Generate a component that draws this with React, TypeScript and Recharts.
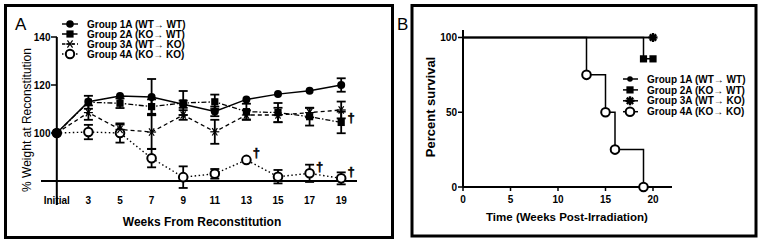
import React from "react";
import { LineChart, Line, XAxis, YAxis, ErrorBar, ReferenceLine, LabelList } from "recharts";

const FONT = '"Liberation Sans", Arial, Helvetica, sans-serif';

// ---- Panel A: % weight at reconstitution ----
const weeks = [1, 3, 5, 7, 9, 11, 13, 15, 17, 19];
const weekLabels = ["Initial", "3", "5", "7", "9", "11", "13", "15", "17", "19"];
const weightTicks = [100, 120, 140];

const group1A = [100, 113, 115.4, 115, 112, 109, 114, 116.2, 117.6, 120];
const group1AErr = [null, null, null, 7.5, 1.5, 2, null, null, null, 2.8];
const group2A = [100, 112.8, 112.4, 111, 112.5, 113, 108.9, 108.5, 106.8, 104.4];
const group2AErr = [null, 2.7, 2, 3, 5, 3, 3.3, 4, 3.7, 4.5];
const group3A = [100, 108.5, 101.5, 100.4, 107.5, 100.5, 107.5, 107.5, 108.5, 109.6];
const group3AErr = [null, 3, 2, 7, 2, 5, 2, 3, 2, 3.5];
const group4A = [100, 100.4, 100, 89.5, 81.6, 83, 88.8, 81.8, 83.2, 81.1];
const group4AErr = [null, 3, 4, 3.8, 4.5, 2, null, 2.8, 3.6, 2.5];
const daggers3A = [0, 0, 0, 0, 0, 0, 0, 0, 0, 1];
const daggers4A = [0, 0, 0, 0, 0, 0, 1, 0, 1, 1];

const groupNames = [
  "Group 1A (WT\u2192 WT)",
  "Group 2A (KO\u2192 WT)",
  "Group 3A (WT\u2192 KO)",
  "Group 4A (KO\u2192 KO)",
];

// ---- Panel B: survival ----
const survTicksX = [0, 5, 10, 15, 20];
const survTicksY = [0, 50, 100];
const surv1AT = [0, 20];
const surv1AV = [100, 100];
const surv1AMark = [0, 1];
const surv2AT = [0, 19, 20];
const surv2AV = [100, 85.7, 85.7];
const surv2AMark = [0, 1, 1];
const surv3AT = [0, 20];
const surv3AV = [100, 100];
const surv3AMark = [0, 1];
const surv4AT = [0, 13, 15, 16, 19];
const surv4AV = [100, 75, 50, 25, 0];
const surv4AMark = [0, 1, 1, 1, 1];

const weightRows = weeks.map((w, i) => ({
  week: w,
  g1: group1A[i], e1: group1AErr[i],
  g2: group2A[i], e2: group2AErr[i],
  g3: group3A[i], e3: group3AErr[i],
  g4: group4A[i], e4: group4AErr[i],
  d3: daggers3A[i], d4: daggers4A[i],
}));

const toRows = (t: number[], v: number[], m: number[]) =>
  t.map((x, i) => ({ t: x, v: v[i], mark: m[i] }));

type Kind = "circle" | "square" | "asterisk" | "star" | "open";

function Marker({ kind, cx, cy, size }: { kind: Kind; cx: number; cy: number; size: number }) {
  if (kind === "circle") return <circle cx={cx} cy={cy} r={size} fill="#000" />;
  if (kind === "square")
    return <rect x={cx - size} y={cy - size} width={size * 2} height={size * 2} fill="#000" />;
  if (kind === "open")
    return <circle cx={cx} cy={cy} r={size} fill="#fff" stroke="#000" strokeWidth={2} />;
  const angles = kind === "asterisk" ? [0, 55, 125] : [0, 45, 90, 135];
  const sw = kind === "asterisk" ? 1.2 : 2.4;
  return (
    <g>
      {angles.map((a) => {
        const rad = (a * Math.PI) / 180;
        const dx = Math.cos(rad) * size;
        const dy = Math.sin(rad) * size;
        return (
          <line key={a} x1={cx - dx} y1={cy - dy} x2={cx + dx} y2={cy + dy} stroke="#000" strokeWidth={sw} />
        );
      })}
    </g>
  );
}

const makeDot = (kind: Kind, size: number, onlyMarked = false) => (props: any) => {
  const { cx, cy, index, payload } = props;
  const k = `d-${kind}-${index}`;
  if (cx == null || cy == null || (onlyMarked && !payload?.mark)) return <g key={k} />;
  return (
    <g key={k}>
      <Marker kind={kind} cx={cx} cy={cy} size={size} />
    </g>
  );
};

// dagger next to a point (group lost members after this time point)
const daggerLabel = (dy: number) => (props: any) => {
  const { x, y, value, index } = props;
  if (!value) return <g key={`dg-${index}`} />;
  return (
    <text key={`dg-${index}`} x={x + 10} y={y + dy} fontSize={13} fontWeight="bold"
      fontFamily={FONT} fill="#000" stroke="#000" strokeWidth={0.5}
      textAnchor="middle" dominantBaseline="central">
      {"\u2020"}
    </text>
  );
};

const Y_AXIS_A_X = 57;

const WeightYTick = (props: any) => {
  const { y, payload } = props;
  return (
    <g>
      <line x1={Y_AXIS_A_X - 6} y1={y} x2={Y_AXIS_A_X} y2={y} stroke="#000" strokeWidth={1.5} />
      <text x={Y_AXIS_A_X - 6.5} y={y} dy={3.6} textAnchor="end" fontSize={10}
        fontWeight="bold" fontFamily={FONT} fill="#000">
        {payload.value}
      </text>
    </g>
  );
};

const WeekTick = (props: any) => {
  const { x, y, payload } = props;
  const idx = weeks.indexOf(payload.value);
  return (
    <text x={x} y={y - 1} textAnchor="middle" fontSize={10} fontWeight="bold"
      fontFamily={FONT} fill="#000">
      {idx >= 0 ? weekLabels[idx] : payload.value}
    </text>
  );
};

const legendA: { kind: Kind; size: number; dash?: string }[] = [
  { kind: "circle", size: 3.8 },
  { kind: "square", size: 3.6, dash: "5 2 1.5 2" },
  { kind: "asterisk", size: 4.5, dash: "3 2" },
  { kind: "open", size: 4.2, dash: "1.5 2" },
];
const legendB: { kind: Kind; size: number }[] = [
  { kind: "circle", size: 2.8 },
  { kind: "square", size: 3.6 },
  { kind: "star", size: 4.5 },
  { kind: "open", size: 4.3 },
];

const tickStyle = { fontSize: 10, fontWeight: "bold", fontFamily: FONT, fill: "#000" };

export default function App() {
  return (
    <div style={{ position: "absolute", left: 0, top: 0, width: 762, height: 245, background: "#fff", fontFamily: FONT }}>
      {/* Panel A */}
      <div style={{ position: "absolute", left: 0, top: 0 }}>
        <LineChart width={392} height={245} data={weightRows}
          margin={{ top: 37, right: 35, bottom: 20, left: 21 }}>
          <XAxis type="number" dataKey="week" domain={[0, 20]} ticks={weeks} interval={0}
            axisLine={false} tickLine={false} tickSize={0} tickMargin={0} height={20}
            tick={<WeekTick />} />
          <YAxis type="number" domain={[70, 140]} ticks={weightTicks} interval={0}
            axisLine={false} tickLine={false} width={20} tick={<WeightYTick />} />
          <ReferenceLine y={80} stroke="#000" strokeWidth={2} />
          <ReferenceLine x={1} stroke="#000" strokeWidth={2} />
          <Line dataKey="g4" stroke="#000" strokeWidth={1.4} strokeDasharray="1.5 2.5"
            dot={makeDot("open", 4.3)} activeDot={false} isAnimationActive={false}>
            <ErrorBar dataKey="e4" width={4.5} strokeWidth={1.8} stroke="#000" direction="y" />
            <LabelList dataKey="d4" content={daggerLabel(-7)} />
          </Line>
          <Line dataKey="g3" stroke="#000" strokeWidth={1.3} strokeDasharray="4 3"
            dot={makeDot("asterisk", 4.5)} activeDot={false} isAnimationActive={false}>
            <ErrorBar dataKey="e3" width={4.5} strokeWidth={1.8} stroke="#000" direction="y" />
            <LabelList dataKey="d3" content={daggerLabel(8)} />
          </Line>
          <Line dataKey="g2" stroke="#000" strokeWidth={1.3} strokeDasharray="5 2 1.5 2"
            dot={makeDot("square", 3.6)} activeDot={false} isAnimationActive={false}>
            <ErrorBar dataKey="e2" width={4.5} strokeWidth={1.8} stroke="#000" direction="y" />
          </Line>
          <Line dataKey="g1" stroke="#000" strokeWidth={1.5}
            dot={makeDot("circle", 4)} activeDot={false} isAnimationActive={false}>
            <ErrorBar dataKey="e1" width={4.5} strokeWidth={1.8} stroke="#000" direction="y" />
          </Line>
        </LineChart>
      </div>

      {/* Panel B */}
      <div style={{ position: "absolute", left: 400, top: 0 }}>
        <LineChart width={362} height={245} margin={{ top: 30, right: 90, bottom: 38, left: 43 }}>
          <XAxis type="number" dataKey="t" domain={[0, 22]} ticks={survTicksX} interval={0}
            axisLine={{ stroke: "#000", strokeWidth: 2 }} tickLine={{ stroke: "#000", strokeWidth: 1.5 }}
            tickSize={4} tickMargin={5} height={20} tick={tickStyle} allowDuplicatedCategory={false} />
          <YAxis type="number" domain={[0, 105]} ticks={survTicksY} interval={0}
            axisLine={{ stroke: "#000", strokeWidth: 2 }} tickLine={{ stroke: "#000", strokeWidth: 1.5 }}
            tickSize={5} tickMargin={1} width={20} tick={tickStyle} />
          <Line data={toRows(surv1AT, surv1AV, surv1AMark)} dataKey="v" type="stepAfter"
            stroke="#000" strokeWidth={1.5} dot={makeDot("circle", 2.8, true)}
            activeDot={false} isAnimationActive={false} />
          <Line data={toRows(surv2AT, surv2AV, surv2AMark)} dataKey="v" type="stepAfter"
            stroke="#000" strokeWidth={1.5} dot={makeDot("square", 3.6, true)}
            activeDot={false} isAnimationActive={false} />
          <Line data={toRows(surv3AT, surv3AV, surv3AMark)} dataKey="v" type="stepAfter"
            stroke="#000" strokeWidth={1.5} dot={makeDot("star", 4.5, true)}
            activeDot={false} isAnimationActive={false} />
          <Line data={toRows(surv4AT, surv4AV, surv4AMark)} dataKey="v" type="stepAfter"
            stroke="#000" strokeWidth={1.5} dot={makeDot("open", 4.3, true)}
            activeDot={false} isAnimationActive={false} />
        </LineChart>
      </div>

      {/* Frames, titles and legends */}
      <svg width={762} height={245} style={{ position: "absolute", left: 0, top: 0, pointerEvents: "none" }}>
        <rect x={5.5} y={5.5} width={387} height={232} fill="none" stroke="#000" strokeWidth={3} />
        <rect x={412} y={5.5} width={344} height={230.5} fill="none" stroke="#000" strokeWidth={3} />
        <text x={15} y={30} fontSize={17} fontFamily={FONT}>A</text>
        <text x={397} y={30} fontSize={17} fontFamily={FONT}>B</text>

        <text x={202} y={225.5} fontSize={12} fontWeight="bold" fontFamily={FONT} textAnchor="middle">
          Weeks From Reconstitution
        </text>
        <text transform="translate(27,120) rotate(-90)" fontSize={12} fontFamily={FONT}
          textAnchor="middle" dominantBaseline="central">
          % Weight at Reconstitution
        </text>
        <text x={567} y={221} fontSize={11.5} fontWeight="bold" fontFamily={FONT} textAnchor="middle">
          Time (Weeks Post-Irradiation)
        </text>
        <text transform="translate(430,107) rotate(-90)" fontSize={13} fontWeight="bold" fontFamily={FONT}
          textAnchor="middle" dominantBaseline="central">
          Percent survival
        </text>

        {legendA.map((s, i) => {
          const cy = 24 + i * 10;
          return (
            <g key={`la-${i}`}>
              <line x1={62} y1={cy} x2={78} y2={cy} stroke="#000" strokeWidth={1.4} strokeDasharray={s.dash} />
              <Marker kind={s.kind} cx={70} cy={cy} size={s.size} />
              <text x={87} y={cy + 3.6} fontSize={10} fontWeight="bold" fontFamily={FONT}>{groupNames[i]}</text>
            </g>
          );
        })}
        {legendB.map((s, i) => {
          const cy = 79 + i * 10.9;
          return (
            <g key={`lb-${i}`}>
              <line x1={623} y1={cy} x2={638} y2={cy} stroke="#000" strokeWidth={1.5} />
              <Marker kind={s.kind} cx={630} cy={cy} size={s.size} />
              <text x={647} y={cy + 3.6} fontSize={10} fontWeight="bold" fontFamily={FONT}>{groupNames[i]}</text>
            </g>
          );
        })}
      </svg>
    </div>
  );
}
